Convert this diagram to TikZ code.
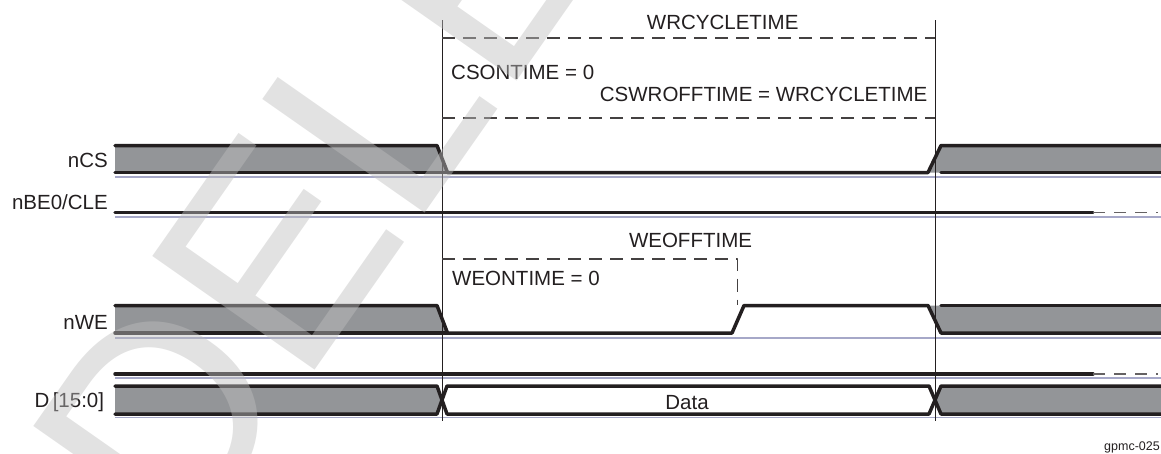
\documentclass[tikz,border=0pt]{standalone}
\usepackage{fontspec}
\setmainfont{Liberation Sans}
\definecolor{sigfill}{RGB}{147,149,152}
\definecolor{sigline}{RGB}{35,31,32}
\definecolor{refcol}{RGB}{166,168,200}
\definecolor{wmgray}{RGB}{190,190,190}

\begin{document}
\begin{tikzpicture}[x=1pt,y=-1pt,line join=round,font=\fontsize{20.5}{24}\selectfont]
\tikzstyle{sig}=[draw=sigline,line width=3.5pt,line cap=round]
\tikzstyle{refln}=[draw=refcol,line width=1.8pt]
\tikzstyle{meas}=[draw=sigline!85,line width=1.1pt,dash pattern=on 13pt off 8pt]
\tikzstyle{tail}=[draw=sigline!70,line width=1.6pt,dash pattern=on 12pt off 9pt]
\tikzstyle{lbl}=[inner sep=0pt,text=sigline]
\useasboundingbox (0,0) rectangle (1161,453);
\fill[sigfill] (115,145.5) -- (437,145.5) -- (447.5,172.5) -- (115,172.5) -- cycle;
\fill[sigfill] (928,172.5) -- (941,145.5) -- (1161,145.5) -- (1161,172.5) -- cycle;
\fill[sigfill] (115,305.5) -- (437,305.5) -- (447.5,333) -- (115,333) -- cycle;
\fill[sigfill] (928,305.5) -- (1161,305.5) -- (1161,333) -- (941,333) -- cycle;
\fill[sigfill] (115,386) -- (437,386) -- (442,400) -- (437,414) -- (115,414) -- cycle;
\fill[sigfill] (941,386) -- (1161,386) -- (1161,414) -- (941,414) -- (935,400) -- cycle;
\foreach \y in {177,217,338,378,417.5}
  \draw[refln] (115,\y) -- (1161,\y);
\draw[sig] (115,145.5) -- (437,145.5) -- (447.5,172.5) -- (928,172.5) -- (941,145.5) -- (1161,145.5);
\draw[sig] (115,172.5) -- (447.5,172.5);
\draw[sig] (941,172.5) -- (1161,172.5);
\draw[sig] (115,212.5) -- (1093,212.5);
\draw[tail] (1093,212.5) -- (1158,212.5);
\draw[sig] (115,305.5) -- (437,305.5) -- (447.5,333) -- (732,333) -- (744,305.5) -- (928,305.5) -- (941,333) -- (1161,333);
\draw[sig] (115,333) -- (447.5,333);
\draw[sig] (941,305.5) -- (1161,305.5);
\draw[sig] (115,374) -- (1093,374);
\draw[tail] (1093,374) -- (1158,374);
\draw[sig] (115,386) -- (437,386) -- (447,414) -- (929,414) -- (941,386) -- (1161,386);
\draw[sig] (115,414) -- (437,414) -- (447,386) -- (929,386) -- (941,414) -- (1161,414);
\draw[sigline,line width=1pt] (442,20) -- (442,421);
\draw[sigline,line width=1pt] (935,20) -- (935,421);
\draw[meas] (442,38) -- (935,38);
\draw[meas] (442,118) -- (935,118);
\draw[meas] (442,259) -- (737.5,259) -- (737.5,305);
\node[lbl,anchor=base east] (ncs) at (108,167.3) {nCS};
\node[lbl,anchor=base east] (nbe) at (108,209) {nBE0/CLE};
\node[lbl,anchor=base east] (nwe) at (108,329.3) {nWE};
\node[lbl,anchor=base east] (dbus) at (104.3,407.3) {D\,[15:0]};
\node[lbl,anchor=base] (wrcyc) at (722.7,29.3) {WRCYCLETIME};
\node[lbl,anchor=base west] (cson) at (451,79.3) {CSONTIME = 0};
\node[lbl,anchor=base east] (csoff) at (927.5,101.7) {CSWROFFTIME = WRCYCLETIME};
\node[lbl,anchor=base] (weoff) at (690.5,247.3) {WEOFFTIME};
\node[lbl,anchor=base west] (weon) at (452,285) {WEONTIME = 0};
\node[lbl,anchor=base] (data) at (687,409) {Data};
\node[lbl,anchor=base east,font=\fontsize{12.5}{14}\selectfont] (figid) at (1160,450.5) {gpmc-025};
\begin{scope}
\clip (0,0) rectangle (1161,453);
\node[rotate=55,anchor=base west,inner sep=0pt,text=wmgray,text opacity=0.45,font=\fontsize{288}{288}\selectfont] (wmark) at (182,560) {DELETED};
\end{scope}
\end{tikzpicture}
\end{document}
